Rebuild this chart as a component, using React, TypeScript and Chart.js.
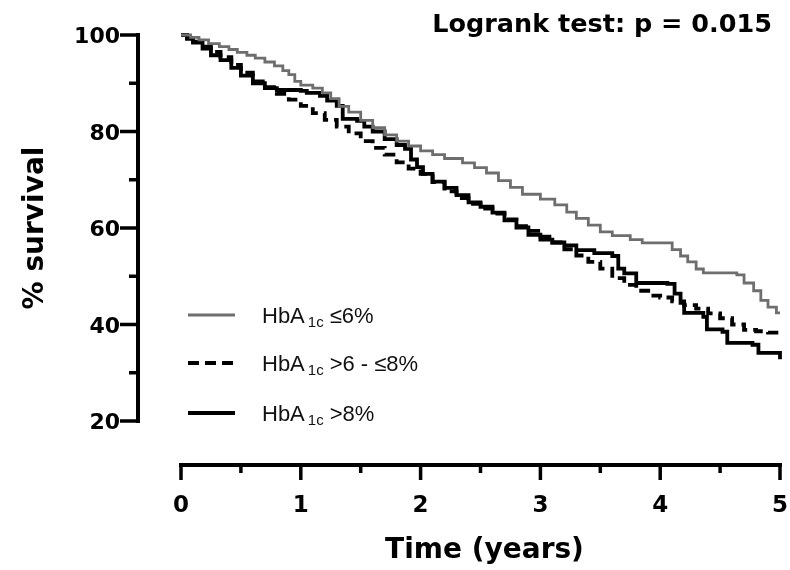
import React, { useEffect, useRef } from "react";
import { Chart, registerables } from "chart.js";

Chart.register(...registerables);

// ---- data (Kaplan-Meier step curves) ----
const lowTimes = [0, 0.08, 0.15, 0.23, 0.32, 0.4, 0.47, 0.55, 0.62, 0.7, 0.78, 0.85, 0.9, 0.95, 1.0, 1.1, 1.18, 1.25, 1.32, 1.4, 1.5, 1.6, 1.7, 1.8, 1.9, 2.0, 2.1, 2.2, 2.35, 2.45, 2.55, 2.65, 2.75, 2.85, 3.0, 3.12, 3.22, 3.3, 3.4, 3.5, 3.6, 3.75, 3.85, 4.1, 4.17, 4.23, 4.3, 4.36, 4.64, 4.7, 4.78, 4.84, 4.9, 4.97, 5.0];
const lowSurv = [100, 99.5, 99, 98.2, 97.6, 97, 96.4, 95.8, 95.2, 94.4, 93.6, 92.6, 91.8, 90.4, 89.6, 89, 88, 86.8, 85.2, 84, 82.3, 80.8, 79.3, 78, 77, 76, 75.2, 74.4, 73.5, 72.5, 71.4, 69.8, 68.4, 67, 66, 64.8, 63.3, 62, 60.6, 59.2, 58.4, 57.6, 56.9, 55.5, 54.2, 53, 51.5, 50.7, 50.3, 48.6, 47, 45, 43.6, 42.4, 42.4];

const midTimes = [0, 0.05, 0.1, 0.17, 0.25, 0.33, 0.42, 0.5, 0.6, 0.7, 0.8, 0.9, 1.0, 1.1, 1.2, 1.3, 1.4, 1.5, 1.6, 1.7, 1.8, 1.9, 2.0, 2.1, 2.2, 2.3, 2.4, 2.5, 2.6, 2.7, 2.8, 2.9, 3.0, 3.1, 3.2, 3.3, 3.4, 3.5, 3.6, 3.7, 3.8, 3.9, 4.0, 4.1, 4.2, 4.3, 4.4, 4.5, 4.6, 4.7, 4.8, 4.9, 5.0];
const midSurv = [100, 99.4, 98.6, 97.6, 96.5, 95.4, 93.8, 92.2, 90.4, 89.2, 87.8, 86.6, 85.3, 83.8, 82.4, 81, 79.6, 78, 76.6, 75.2, 73.6, 72.3, 71.2, 69.5, 67.6, 66.2, 65, 64, 63, 61.8, 60.4, 59.4, 58.2, 57, 55.6, 54.3, 53, 51.6, 49.6, 48.2, 47, 46, 45.6, 44.8, 44, 43.3, 42.3, 41.3, 40, 38.9, 38.6, 38.3, 38.2];

const highTimes = [0, 0.05, 0.1, 0.18, 0.25, 0.33, 0.42, 0.5, 0.6, 0.7, 0.8, 1.0, 1.05, 1.16, 1.22, 1.3, 1.35, 1.47, 1.53, 1.6, 1.7, 1.8, 1.87, 1.92, 1.97, 2.02, 2.1, 2.2, 2.3, 2.4, 2.5, 2.6, 2.7, 2.8, 2.9, 3.0, 3.1, 3.2, 3.3, 3.45, 3.6, 3.65, 3.7, 3.8, 4.06, 4.12, 4.17, 4.2, 4.36, 4.39, 4.52, 4.56, 4.77, 4.82, 4.96, 5.0];
const highSurv = [100, 99.2, 98.4, 97.2, 95.8, 94.8, 93.2, 91.6, 90, 89, 88.6, 88.4, 88, 87.4, 86.4, 85.3, 82.6, 82.2, 81, 80, 78.4, 77.2, 76.4, 74.2, 72.6, 71.2, 69.6, 68.3, 66.8, 65.3, 64.4, 63.2, 61.6, 60.1, 58.6, 57.6, 57, 56.4, 55.4, 54.8, 54.2, 51.6, 50.6, 48.6, 48.4, 46.4, 44.5, 42.4, 41.6, 39, 38.5, 36.2, 35.8, 34.1, 34.1, 32.8];

const seriesNames = ["≤6%", ">6 - ≤8%", ">8%"];
const yMajorTicks = [20, 40, 60, 80, 100];
const yMinorTicks = [30, 50, 70, 90];
const xMajorTicks = [0, 1, 2, 3, 4, 5];
const xMinorTicks = [0.5, 1.5, 2.5, 3.5, 4.5];
const titleText = "Logrank test: p = 0.015";
const xTitle = "Time (years)";
const yTitle = "% survival";

const toPoints = (t: number[], v: number[]) => t.map((x, i) => ({ x, y: v[i] }));

const GRAY = "#6e6e6e";
const BLACK = "#000000";

const lineStyles = [
  { color: GRAY, width: 2.8, dash: [] as number[] },
  { color: BLACK, width: 3.8, dash: [11, 6] },
  { color: BLACK, width: 3.8, dash: [] as number[] },
];

const decorPlugin = {
  id: "decor",
  afterDraw(chart: any) {
    const ctx = chart.ctx as CanvasRenderingContext2D;
    const xs = chart.scales.x;
    const ys = chart.scales.y;
    const yAxisX = chart.chartArea.left - 43;
    const xAxisY = chart.chartArea.bottom + 44;
    ctx.save();
    ctx.strokeStyle = "#000";
    ctx.fillStyle = "#000";
    ctx.lineWidth = 4;
    ctx.lineCap = "butt";

    // y axis
    const yTop = ys.getPixelForValue(100);
    const yBot = ys.getPixelForValue(20);
    ctx.beginPath();
    ctx.moveTo(yAxisX, yTop - 2);
    ctx.lineTo(yAxisX, yBot + 2);
    ctx.stroke();
    ctx.lineWidth = 3.5;
    yMajorTicks.forEach((v) => {
      const py = ys.getPixelForValue(v);
      ctx.beginPath();
      ctx.moveTo(yAxisX - 18, py);
      ctx.lineTo(yAxisX + 2, py);
      ctx.stroke();
    });
    yMinorTicks.forEach((v) => {
      const py = ys.getPixelForValue(v);
      ctx.beginPath();
      ctx.moveTo(yAxisX - 9, py);
      ctx.lineTo(yAxisX, py);
      ctx.stroke();
    });
    ctx.font = "bold 22px 'DejaVu Sans'";
    ctx.textAlign = "right";
    ctx.textBaseline = "alphabetic";
    yMajorTicks.forEach((v) => {
      const py = ys.getPixelForValue(v);
      ctx.fillText(String(v), yAxisX - 18, py + 8);
    });

    // x axis
    const xL = xs.getPixelForValue(0);
    const xR = xs.getPixelForValue(5);
    ctx.lineWidth = 4;
    ctx.beginPath();
    ctx.moveTo(xL - 2, xAxisY);
    ctx.lineTo(xR + 2, xAxisY);
    ctx.stroke();
    ctx.lineWidth = 3.5;
    xMajorTicks.forEach((v) => {
      const px = xs.getPixelForValue(v);
      ctx.beginPath();
      ctx.moveTo(px, xAxisY - 2);
      ctx.lineTo(px, xAxisY + 15);
      ctx.stroke();
    });
    xMinorTicks.forEach((v) => {
      const px = xs.getPixelForValue(v);
      ctx.beginPath();
      ctx.moveTo(px, xAxisY);
      ctx.lineTo(px, xAxisY + 8);
      ctx.stroke();
    });
    ctx.font = "bold 23px 'DejaVu Sans'";
    ctx.textAlign = "center";
    xMajorTicks.forEach((v) => {
      const px = xs.getPixelForValue(v);
      ctx.fillText(String(v), px, xAxisY + 47);
    });

    // axis titles
    ctx.font = "bold 28px 'DejaVu Sans'";
    ctx.textAlign = "center";
    ctx.fillText(xTitle, (xL + xR) / 2 + 4, 558);
    ctx.save();
    ctx.translate(43, (yTop + yBot) / 2);
    ctx.rotate(-Math.PI / 2);
    ctx.fillText(yTitle, 0, 0);
    ctx.restore();

    // top-right annotation
    ctx.font = "bold 25.5px 'DejaVu Sans'";
    ctx.textAlign = "right";
    ctx.fillText(titleText, 772, 32);

    // legend
    const legY = [315, 363, 413];
    lineStyles.forEach((s, i) => {
      ctx.strokeStyle = s.color;
      ctx.lineWidth = s.width + 0.4;
      ctx.setLineDash(s.dash);
      ctx.beginPath();
      ctx.moveTo(188, legY[i]);
      ctx.lineTo(235, legY[i]);
      ctx.stroke();
      ctx.setLineDash([]);
      ctx.fillStyle = "#111";
      ctx.textAlign = "left";
      let x = 262;
      ctx.font = "22px 'Liberation Sans'";
      ctx.fillText("HbA", x, legY[i] + 8);
      x += ctx.measureText("HbA").width + 3;
      ctx.font = "15px 'Liberation Sans'";
      ctx.fillText("1c", x, legY[i] + 12);
      x += ctx.measureText("1c").width + 6;
      ctx.font = "22px 'Liberation Sans'";
      ctx.fillText(seriesNames[i], x, legY[i] + 8);
    });
    ctx.restore();
  },
};

export default function App() {
  const ref = useRef<HTMLCanvasElement | null>(null);
  useEffect(() => {
    if (!ref.current) return;
    const data = [toPoints(lowTimes, lowSurv), toPoints(midTimes, midSurv), toPoints(highTimes, highSurv)];
    const chart = new Chart(ref.current, {
      type: "line",
      data: {
        datasets: data.map((d, i) => ({
          label: seriesNames[i],
          data: d,
          borderColor: lineStyles[i].color,
          borderWidth: lineStyles[i].width,
          borderDash: lineStyles[i].dash,
          stepped: true,
          pointRadius: 0,
          fill: false,
          clip: 6,
          tension: 0,
        })),
      },
      options: {
        animation: false,
        responsive: false,
        devicePixelRatio: 1,
        layout: { padding: { left: 181, right: 10, top: 35, bottom: 149 } },
        scales: {
          x: { type: "linear", min: 0, max: 5, display: false },
          y: { type: "linear", min: 20, max: 100, display: false },
        },
        plugins: { legend: { display: false }, tooltip: { enabled: false }, title: { display: false } },
      },
      plugins: [decorPlugin],
    } as any);
    return () => chart.destroy();
  }, []);
  return (
    <div style={{ position: "fixed", left: 0, top: 0, width: 790, height: 570, background: "#fff" }}>
      <canvas ref={ref} width={790} height={570} style={{ display: "block", width: 790, height: 570 }} />
    </div>
  );
}
